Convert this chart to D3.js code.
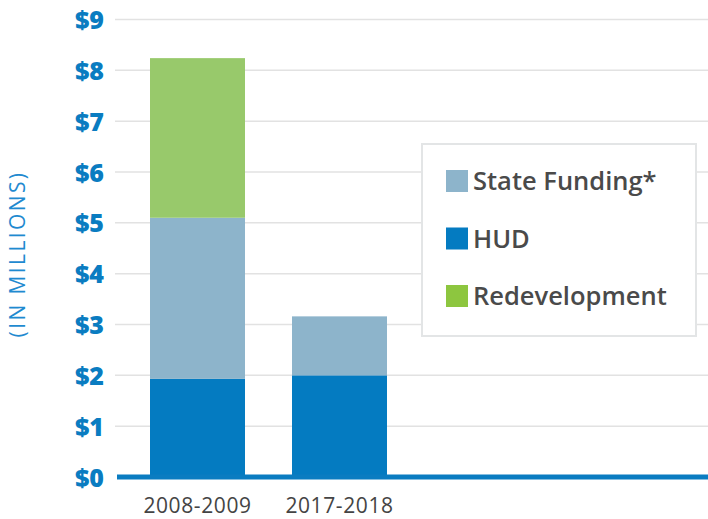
<!DOCTYPE html>
<html><head><meta charset="utf-8">
<script src="https://cdn.jsdelivr.net/npm/d3@7"></script>
<style>body{margin:0;background:#fff}</style>
</head><body>
<svg id="c" width="708" height="519"></svg>
<script>
const categories = ["2008-2009", "2017-2018"];
const hud = [1.93, 2.0];
const stateFunding = [3.17, 1.16];
const redevelopment = [3.14, 0];
const yTicks = [0,1,2,3,4,5,6,7,8,9];
const tickLabels = ["$0","$1","$2","$3","$4","$5","$6","$7","$8","$9"];
const legendLabels = ["State Funding*", "HUD", "Redevelopment"];

const seriesKeys = ["hud","state","redev"];
const colors = {hud:"#047bc1", state:"#8db4cb", redev:"#98c96b"};
const legendColors = ["#8db4cb","#047bc1","#8dc63f"];
const rows = categories.map((c,i)=>({cat:c, hud:hud[i], state:stateFunding[i], redev:redevelopment[i]}));
const stack = d3.stack().keys(seriesKeys)(rows);

const svg = d3.select("#c");
const y = d3.scaleLinear().domain([0,9]).range([477,19.5]);
const x = d3.scaleBand().domain(categories).range([126,411]).paddingInner(0.331).paddingOuter(0.169);

// grid
svg.append("g").selectAll("line").data(yTicks.filter(t=>t>0)).join("line")
  .attr("x1",115).attr("x2",708).attr("y1",d=>y(d)).attr("y2",d=>y(d))
  .attr("stroke","#e2e2e2").attr("stroke-width",1.5);

// y axis labels
const yAxis = d3.axisLeft(y).tickValues(yTicks).tickFormat((d,i)=>tickLabels[i]).tickSize(0).tickPadding(0);
const ga = svg.append("g").attr("transform","translate(104,0)").call(yAxis);
ga.select(".domain").remove();
ga.selectAll("text").attr("fill","#0a7cc1").attr("font-family","'Open Sans', sans-serif")
  .attr("font-weight","800").attr("font-size","25px").attr("dy","0.36em");

// bars
svg.append("g").selectAll("g").data(stack).join("g").attr("fill",d=>colors[d.key])
  .selectAll("rect").data(d=>d.filter(p=>p[1]-p[0]>0)).join("rect")
  .attr("x",d=>x(d.data.cat)).attr("width",x.bandwidth())
  .attr("y",d=>y(d[1])).attr("height",d=>y(d[0])-y(d[1]));

// baseline
svg.append("line").attr("x1",117).attr("x2",708).attr("y1",y(0)).attr("y2",y(0))
  .attr("stroke","#0a7cc1").attr("stroke-width",5);

// x labels
const xAxis = d3.axisBottom(x).tickSize(0).tickPadding(0);
const gx = svg.append("g").attr("transform","translate(0,513)").call(xAxis);
gx.select(".domain").remove();
gx.selectAll("text").attr("fill","#444").attr("font-family","'Open Sans', sans-serif")
  .attr("font-size","21px").attr("letter-spacing","0.6px").attr("dy","0");

// y title
svg.append("text").attr("transform","translate(18,254) rotate(-90)").attr("text-anchor","middle")
  .attr("dy","0.35em").attr("fill","#1f8ad0").attr("font-family","'Open Sans', sans-serif")
  .attr("font-weight","400").attr("font-size","21px").attr("letter-spacing","2.4px").text("(IN MILLIONS)");

// legend
const lg = svg.append("g");
lg.append("rect").attr("x",422).attr("y",144).attr("width",274).attr("height",192)
  .attr("fill","#fff").attr("stroke","#e3e5e6").attr("stroke-width",2);
const items = lg.selectAll("g").data(legendLabels).join("g")
  .attr("transform",(d,i)=>`translate(446,${170+i*57.5})`);
items.append("rect").attr("width",22).attr("height",22).attr("fill",(d,i)=>legendColors[i]);
items.append("text").attr("x",27).attr("y",11).attr("dy","0.36em").attr("fill","#4a4a4a")
  .attr("font-family","'Open Sans', sans-serif").attr("font-weight","600").attr("font-size","25.5px")
  .text(d=>d);
</script>
</body></html>
